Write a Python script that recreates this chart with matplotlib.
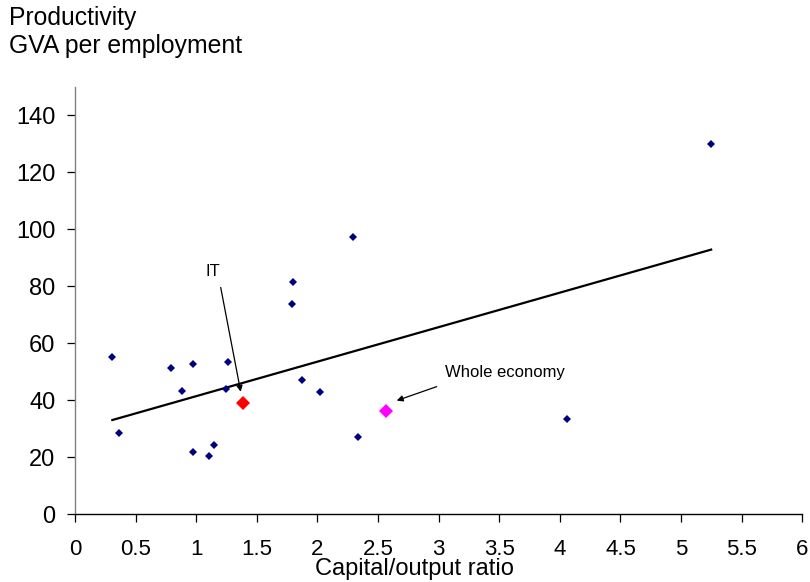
import matplotlib.pyplot as plt
import numpy as np

plt.rcParams['font.family'] = ['Liberation Sans', 'DejaVu Sans']

# Sectors: capital/output ratio vs GVA per employment
cap_output = [0.308, 0.366, 0.795, 0.976, 0.880, 1.265, 1.248, 0.971, 1.144,
              1.108, 1.796, 1.788, 1.870, 2.021, 2.335, 2.296, 4.062, 5.248]
productivity = [55.2, 28.6, 51.2, 52.6, 43.2, 53.3, 43.9, 21.9, 24.4,
                20.6, 81.5, 73.9, 47.1, 42.9, 27.2, 97.2, 33.4, 130.0]

# Highlighted points
it_x, it_y = 1.384, 39.2
whole_x, whole_y = 2.564, 36.4

x_ticks = np.arange(0, 6.01, 0.5)
x_tick_labels = ['0', '0.5', '1', '1.5', '2', '2.5', '3', '3.5', '4', '4.5', '5', '5.5', '6']
y_ticks = [0, 20, 40, 60, 80, 100, 120, 140]

fig = plt.figure(figsize=(8.1, 5.82), dpi=100)
ax = fig.add_axes([0.0926, 0.1163, 0.8979, 0.7346])

# linear trend over all points, drawn across the data range
all_x = np.array(cap_output + [it_x, whole_x])
all_y = np.array(productivity + [it_y, whole_y])
slope, intercept = np.polyfit(all_x, all_y, 1)
line_x = np.array([all_x.min(), all_x.max()])
ax.plot(line_x, slope * line_x + intercept, color='black', lw=1.6, zorder=2)

ax.plot(cap_output, productivity, 'D', color='#000080', markersize=4.2,
        markeredgewidth=0, zorder=3)
ax.plot([it_x], [it_y], 'D', color='#ff0000', markersize=7.5,
        markeredgewidth=0, zorder=3)
ax.plot([whole_x], [whole_y], 'D', color='#ff00ff', markersize=7.5,
        markeredgewidth=0, zorder=3)

arrow = dict(arrowstyle='-|>', color='black', lw=0.9, mutation_scale=9,
             shrinkA=0, shrinkB=0)
ax.annotate('', xy=(1.367, 43.0), xytext=(1.202, 79.6), arrowprops=arrow)
ax.text(1.141, 83.6, 'IT', fontsize=12, ha='center', va='baseline')
ax.annotate('', xy=(2.654, 39.9), xytext=(2.984, 44.8), arrowprops=arrow)
ax.text(3.053, 48.3, 'Whole economy', fontsize=12, ha='left', va='baseline')

ax.set_xlim(0, 6)
ax.set_ylim(0, 150)
ax.set_xticks(x_ticks)
ax.set_xticklabels(x_tick_labels)
ax.set_yticks(y_ticks)

for side in ['top', 'right']:
    ax.spines[side].set_visible(False)
ax.spines['left'].set_color('#808080')
ax.spines['bottom'].set_color('black')
ax.spines['left'].set_linewidth(1.0)
ax.spines['bottom'].set_linewidth(1.0)

ax.tick_params(axis='x', direction='out', length=5.5, width=0.9,
               labelsize=16, pad=12)
ax.tick_params(axis='y', direction='out', length=6, width=0.9,
               labelsize=17, pad=8)

fig.text(414 / 810, 1 - 575 / 582, 'Capital/output ratio', fontsize=17,
         ha='center', va='baseline')
fig.text(9 / 810, 1 - 25 / 582, 'Productivity', fontsize=17.8,
         ha='left', va='baseline')
fig.text(9 / 810, 1 - 53 / 582, 'GVA per employment', fontsize=17.8,
         ha='left', va='baseline')

plt.savefig('out.png', dpi=100)
